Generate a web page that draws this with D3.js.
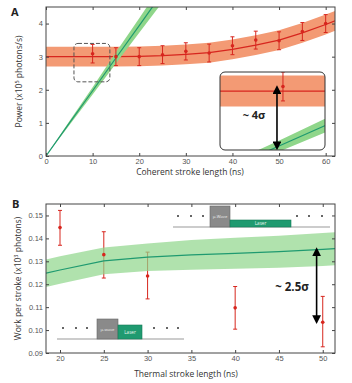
<!DOCTYPE html>
<html>
<head>
<meta charset="utf-8">
<script src="https://cdn.jsdelivr.net/npm/d3@7"></script>
<style>
  body { margin: 0; background: #fff; }
  svg { font-family: "Open Sans", "Liberation Sans", sans-serif; }
  .axis text { fill: #555; font-size: 7.5px; }
  .axis path, .axis line { stroke: #444; }
</style>
</head>
<body>
<div id="chart"></div>
<script>
// ---------------- panel A data ----------------
const redPtsX = [10, 15, 20, 25, 30, 35, 40, 45, 50, 55, 60];
const redPtsY = [3.09, 3.0, 3.0, 3.06, 3.16, 3.11, 3.33, 3.5, 3.48, 3.76, 4.0];
const redPtsErr = [0.28, 0.27, 0.27, 0.27, 0.26, 0.27, 0.27, 0.27, 0.27, 0.27, 0.27];

const redFitX = [0, 5, 10, 15, 20, 25, 30, 35, 40, 45, 50, 55, 60, 62];
const redFitY = [3.0, 3.0, 3.0, 3.0, 3.01, 3.03, 3.07, 3.12, 3.22, 3.35, 3.5, 3.72, 3.97, 4.08];
const redFitErr = [0.3, 0.3, 0.3, 0.3, 0.3, 0.3, 0.3, 0.3, 0.3, 0.3, 0.3, 0.3, 0.3, 0.3];

const greenAX = [0, 5, 10, 15, 20, 25];
const greenAY = [0, 0.99, 1.97, 2.96, 3.94, 4.93];
const greenAErr = [0, 0.06, 0.11, 0.17, 0.22, 0.28];

const ticksAX = [0, 10, 20, 30, 40, 50, 60];
const ticksAY = [0, 1, 2, 3, 4];

// ---------------- panel B data ----------------
const workPtsX = [20, 25, 30, 40, 50];
const workPtsY = [0.1447, 0.1329, 0.1236, 0.1097, 0.1034];
const workPtsLo = [0.137, 0.1227, 0.1136, 0.1004, 0.0927];
const workPtsHi = [0.1522, 0.1429, 0.134, 0.119, 0.1147];

const greenBX = [18.4, 20, 25, 30, 35, 40, 45, 50, 51.4];
const greenBY = [0.1248, 0.1262, 0.1302, 0.1318, 0.1328, 0.1335, 0.1342, 0.1352, 0.1355];
const greenBErr = [0.006, 0.006, 0.0058, 0.006, 0.0065, 0.0068, 0.007, 0.0072, 0.0072];

const ticksBX = [20, 25, 30, 35, 40, 45, 50];
const ticksBY = [0.09, 0.10, 0.11, 0.12, 0.13, 0.14, 0.15];

// ---------------- colours ----------------
const redLine = "#d7261e";
const redBand = "#f39a74";
const greenLine = "#1f9a70";
const greenBand = "#8fd68a";
const frame = "#444";

const width = 352, height = 383;

const svg = d3.select("#chart").append("svg")
    .attr("width", width)
    .attr("height", height);

const defs = svg.append("defs");

// arrow head markers
["start", "end"].forEach(k => {
    defs.append("marker")
        .attr("id", "arrow-" + k)
        .attr("viewBox", "0 0 10 10")
        .attr("refX", 5).attr("refY", 5)
        .attr("markerWidth", 5.5).attr("markerHeight", 5.5)
        .attr("orient", k === "start" ? "auto-start-reverse" : "auto")
        .append("path")
        .attr("d", "M0,0 L10,5 L0,10 z")
        .attr("fill", "#000");
});

function zipData(xs, ys, es) {
    return xs.map((x, i) => ({ x: x, y: ys[i], e: es ? es[i] : 0 }));
}

// draw axes with inward ticks on all four sides
function frameAxes(g, x, y, tx, ty, fmt) {
    const [x0, x1] = x.range();
    const [y0, y1] = y.range();
    g.append("g").attr("class", "axis")
        .attr("transform", `translate(0,${y0})`)
        .call(d3.axisBottom(x).tickValues(tx).tickSize(-3).tickPadding(3).tickSizeOuter(0));
    g.append("g").attr("class", "axis")
        .attr("transform", `translate(${x0},0)`)
        .call(d3.axisLeft(y).tickValues(ty).tickSize(-3).tickPadding(3).tickSizeOuter(0).tickFormat(fmt));
    g.append("g").attr("class", "axis")
        .attr("transform", `translate(0,${y1})`)
        .call(d3.axisTop(x).tickValues(tx).tickSize(-3).tickSizeOuter(0).tickFormat(""));
    g.append("g").attr("class", "axis")
        .attr("transform", `translate(${x1},0)`)
        .call(d3.axisRight(y).tickValues(ty).tickSize(-3).tickSizeOuter(0).tickFormat(""));
    g.selectAll(".axis .domain").remove();
    g.append("rect")
        .attr("x", x0).attr("y", y1)
        .attr("width", x1 - x0).attr("height", y0 - y1)
        .attr("fill", "none").attr("stroke", frame).attr("stroke-width", 1);
}

function drawBand(g, x, y, data, fill, stroke, lw, op) {
    g.append("path").datum(data)
        .attr("fill", fill)
        .attr("fill-opacity", op || 1)
        .attr("d", d3.area().x(d => x(d.x)).y0(d => y(d.y - d.e)).y1(d => y(d.y + d.e)));
    g.append("path").datum(data)
        .attr("fill", "none").attr("stroke", stroke).attr("stroke-width", lw)
        .attr("d", d3.line().x(d => x(d.x)).y(d => y(d.y)));
}

function drawErrBars(g, x, y, data, color) {
    const p = g.append("g").selectAll("g").data(data).join("g");
    p.append("line")
        .attr("x1", d => x(d.x)).attr("x2", d => x(d.x))
        .attr("y1", d => y(d.lo)).attr("y2", d => y(d.hi))
        .attr("stroke", color).attr("stroke-width", 1);
    p.append("line")
        .attr("x1", d => x(d.x) - 2).attr("x2", d => x(d.x) + 2)
        .attr("y1", d => y(d.lo)).attr("y2", d => y(d.lo))
        .attr("stroke", color).attr("stroke-width", 1);
    p.append("line")
        .attr("x1", d => x(d.x) - 2).attr("x2", d => x(d.x) + 2)
        .attr("y1", d => y(d.hi)).attr("y2", d => y(d.hi))
        .attr("stroke", color).attr("stroke-width", 1);
}

function drawDots(g, x, y, data, color) {
    g.append("g").selectAll("circle").data(data).join("circle")
        .attr("cx", d => x(d.x)).attr("cy", d => y(d.y))
        .attr("r", 1.8).attr("fill", color);
}

// ------------------------------------------------------------------
// Panel A
// ------------------------------------------------------------------
const xA = d3.scaleLinear().domain([0, 62]).range([46, 335]);
const yA = d3.scaleLinear().domain([0, 4.5]).range([156, 7]);

const gA = svg.append("g");

defs.append("clipPath").attr("id", "clipA").append("rect")
    .attr("x", 46).attr("y", 7).attr("width", 335 - 46).attr("height", 156 - 7);

const plotA = gA.append("g").attr("clip-path", "url(#clipA)");

const redFit = zipData(redFitX, redFitY, redFitErr);
const greenA = zipData(greenAX, greenAY, greenAErr);
const redPts = redPtsX.map((x, i) => ({ x: x, y: redPtsY[i], lo: redPtsY[i] - redPtsErr[i], hi: redPtsY[i] + redPtsErr[i] }));

drawBand(plotA, xA, yA, redFit, redBand, redLine, 1.2);
drawBand(plotA, xA, yA, greenA, greenBand, greenLine, 1.2);
drawErrBars(plotA, xA, yA, redPts, redLine);
drawDots(plotA, xA, yA, redPts, redLine);

// dashed zoom box
plotA.append("rect")
    .attr("x", xA(6)).attr("y", yA(3.4))
    .attr("width", xA(13.7) - xA(6)).attr("height", yA(2.24) - yA(3.4))
    .attr("rx", 4)
    .attr("fill", "none").attr("stroke", "#555").attr("stroke-width", 1)
    .attr("stroke-dasharray", "4,2");

frameAxes(gA, xA, yA, ticksAX, ticksAY, d3.format("d"));

// inset
const xI = d3.scaleLinear().domain([7.26, 11.83]).range([220, 325]);
const yI = d3.scaleLinear().domain([1.86, 3.37]).range([150, 72]);

defs.append("clipPath").attr("id", "clipI").append("rect")
    .attr("x", 220).attr("y", 72).attr("width", 105).attr("height", 78).attr("rx", 5);

gA.append("rect")
    .attr("x", 220).attr("y", 72).attr("width", 105).attr("height", 78).attr("rx", 5)
    .attr("fill", "#fff");

const inset = gA.append("g").attr("clip-path", "url(#clipI)");
drawBand(inset, xI, yI, redFit, redBand, redLine, 1.2);
drawBand(inset, xI, yI, greenA, greenBand, greenLine, 1.2);
drawErrBars(inset, xI, yI, redPts.slice(0, 1), redLine);
drawDots(inset, xI, yI, redPts.slice(0, 1), redLine);

inset.append("line")
    .attr("x1", xI(9.74)).attr("x2", xI(9.74))
    .attr("y1", yI(3.03)).attr("y2", yI(1.94))
    .attr("stroke", "#000").attr("stroke-width", 1.6)
    .attr("marker-start", "url(#arrow-start)")
    .attr("marker-end", "url(#arrow-end)");

gA.append("rect")
    .attr("x", 220).attr("y", 72).attr("width", 105).attr("height", 78).attr("rx", 5)
    .attr("fill", "none").attr("stroke", "#333").attr("stroke-width", 1);

gA.append("text")
    .attr("x", 254).attr("y", 119)
    .attr("text-anchor", "middle")
    .attr("font-size", 11).attr("font-weight", "bold").attr("fill", "#222")
    .text("~ 4σ");

// labels
gA.append("text").attr("x", 11).attr("y", 16)
    .attr("font-size", 11).attr("font-weight", "bold").attr("fill", "#222").text("A");

gA.append("text")
    .attr("x", 190).attr("y", 175).attr("text-anchor", "middle")
    .attr("font-size", 8.5).attr("fill", "#333")
    .text("Coherent stroke length (ns)");

const titleA = gA.append("text")
    .attr("transform", `translate(22,${yA(2.25)}) rotate(-90)`)
    .attr("text-anchor", "middle")
    .attr("font-size", 8.5).attr("fill", "#333");
titleA.append("tspan").text("Power (x10");
titleA.append("tspan").attr("font-size", 5.5).attr("dy", -3).text("5");
titleA.append("tspan").attr("dy", 3).text(" photons/s)");

// ------------------------------------------------------------------
// Panel B
// ------------------------------------------------------------------
const xB = d3.scaleLinear().domain([18.4, 51.4]).range([46, 335]);
const yB = d3.scaleLinear().domain([0.09, 0.155]).range([353, 204]);

const gB = svg.append("g");

defs.append("clipPath").attr("id", "clipB").append("rect")
    .attr("x", 46).attr("y", 204).attr("width", 335 - 46).attr("height", 353 - 204);

const plotB = gB.append("g").attr("clip-path", "url(#clipB)");

// pulse sequence sketches
function drawPulse(g, tx, ty, len, dotsL, dotsR, mw, laser, label) {
    const p = g.append("g").attr("transform", `translate(${tx},${ty})`);
    p.append("line").attr("x1", 0).attr("x2", len).attr("y1", 0).attr("y2", 0)
        .attr("stroke", "#999").attr("stroke-width", 1);
    p.selectAll("circle.d").data(dotsL.concat(dotsR)).join("circle")
        .attr("cx", d => d).attr("cy", -11).attr("r", 1).attr("fill", "#333");
    p.append("rect").attr("x", mw[0]).attr("y", -mw[2]).attr("width", mw[1] - mw[0]).attr("height", mw[2])
        .attr("fill", "#8a8a8a").attr("stroke", "#666").attr("stroke-width", 0.6);
    p.append("rect").attr("x", laser[0]).attr("y", -laser[2]).attr("width", laser[1] - laser[0]).attr("height", laser[2])
        .attr("fill", "#1f9a70").attr("stroke", "#177a58").attr("stroke-width", 0.6);
    p.append("text").attr("x", (mw[0] + mw[1]) / 2).attr("y", -mw[2] / 2 + 1.5)
        .attr("text-anchor", "middle").attr("font-size", 4.2).attr("fill", "#eee").text(label);
    p.append("text").attr("x", (laser[0] + laser[1]) / 2).attr("y", -laser[2] / 2 + 1.6)
        .attr("text-anchor", "middle").attr("font-size", 4.6).attr("fill", "#e8f5ee").text("Laser");
}

drawPulse(plotB, 57, 339, 127, [6, 19, 30], [97, 110, 121], [40, 61, 20], [61, 85, 14], "μ-wave");
drawPulse(plotB, 173, 227, 157, [5, 18, 30], [124, 136, 149], [37, 57, 21], [57, 118, 7], "μ-Wave");

const workPts = workPtsX.map((x, i) => ({ x: x, y: workPtsY[i], lo: workPtsLo[i], hi: workPtsHi[i] }));
drawErrBars(plotB, xB, yB, workPts, redLine);

// band drawn over the error bars, slightly see-through
drawBand(plotB, xB, yB, zipData(greenBX, greenBY, greenBErr), greenBand, greenLine, 1.2, 0.7);
drawDots(plotB, xB, yB, workPts, redLine);

plotB.append("line")
    .attr("x1", xB(49.3)).attr("x2", xB(49.3))
    .attr("y1", yB(0.1342)).attr("y2", yB(0.1046))
    .attr("stroke", "#000").attr("stroke-width", 1.6)
    .attr("marker-start", "url(#arrow-start)")
    .attr("marker-end", "url(#arrow-end)");

plotB.append("text")
    .attr("x", 292).attr("y", 291)
    .attr("text-anchor", "middle")
    .attr("font-size", 11.5).attr("font-weight", "bold").attr("fill", "#222")
    .text("~ 2.5σ");

frameAxes(gB, xB, yB, ticksBX, ticksBY, d3.format(".2f"));

gB.append("text").attr("x", 12).attr("y", 208)
    .attr("font-size", 11).attr("font-weight", "bold").attr("fill", "#222").text("B");

gB.append("text")
    .attr("x", 186).attr("y", 377).attr("text-anchor", "middle")
    .attr("font-size", 8.5).attr("fill", "#333")
    .text("Thermal stroke length (ns)");

const titleB = gB.append("text")
    .attr("transform", `translate(21,${yB(0.1225)}) rotate(-90)`)
    .attr("text-anchor", "middle")
    .attr("font-size", 8.5).attr("fill", "#333");
titleB.append("tspan").text("Work per stroke (x10");
titleB.append("tspan").attr("font-size", 5.5).attr("dy", -3).text("3");
titleB.append("tspan").attr("dy", 3).text(" photons)");
</script>
</body>
</html>
